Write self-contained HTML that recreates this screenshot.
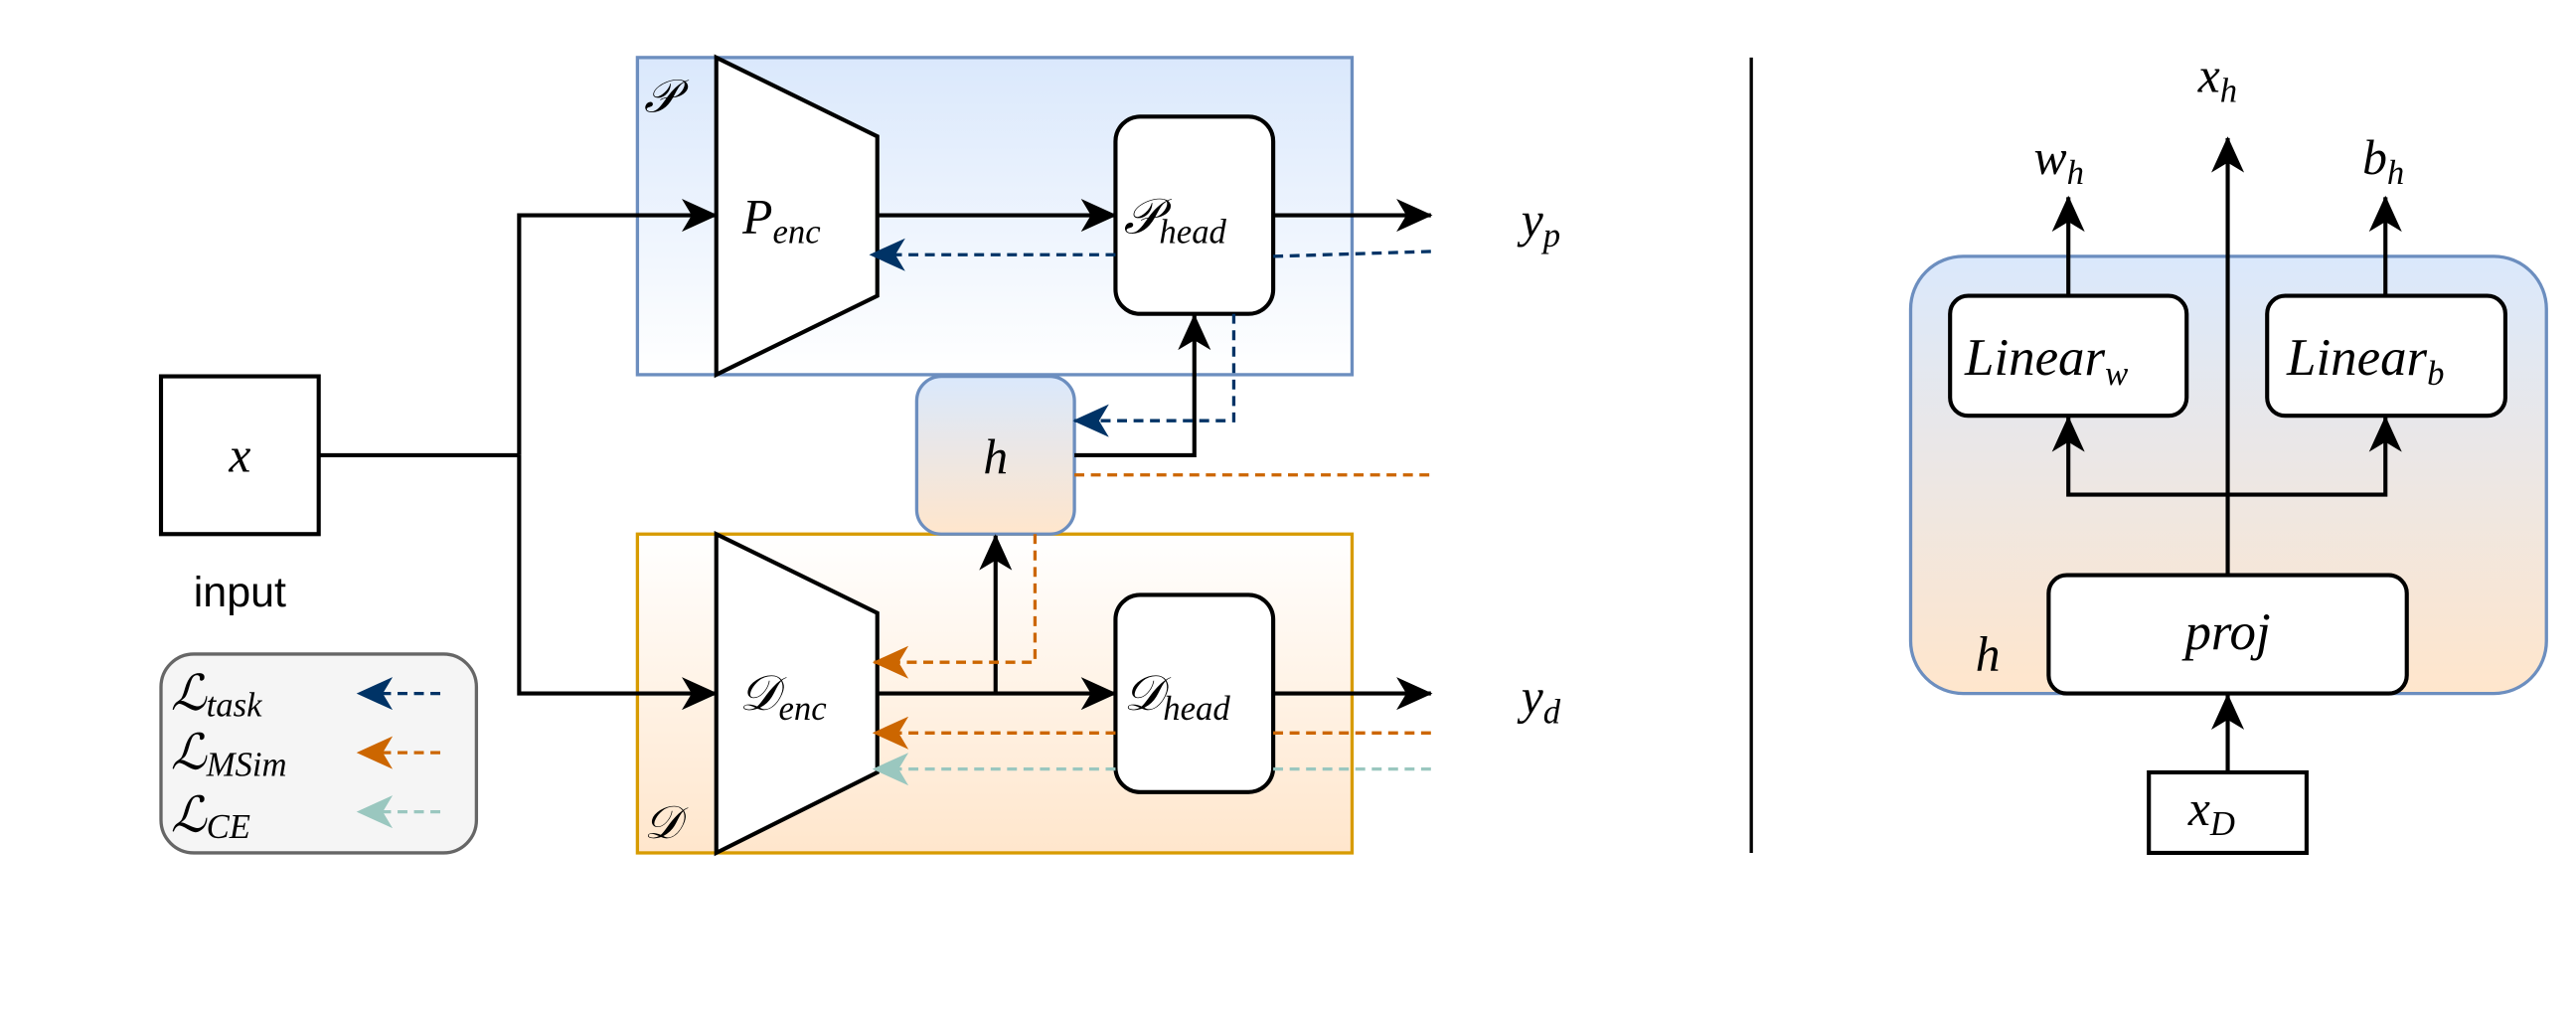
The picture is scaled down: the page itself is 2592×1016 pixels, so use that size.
<!DOCTYPE html>
<html><head><meta charset="utf-8"><style>
html,body{margin:0;padding:0;background:#fff;}
svg{display:block;}
text{font-family:"Liberation Serif",serif;font-style:italic;}
</style></head><body>
<svg width="2592" height="1016" viewBox="0 0 1568 614.6" preserveAspectRatio="none" xmlns="http://www.w3.org/2000/svg">
<defs>
<linearGradient id="gb" x1="0" y1="0" x2="0" y2="1"><stop offset="0" stop-color="#dae8fc"/><stop offset="1" stop-color="#ffffff"/></linearGradient>
<linearGradient id="go" x1="0" y1="0" x2="0" y2="1"><stop offset="0" stop-color="#ffffff"/><stop offset="1" stop-color="#ffe6cc"/></linearGradient>
<linearGradient id="gbo" x1="0" y1="0" x2="0" y2="1"><stop offset="0" stop-color="#dae8fc"/><stop offset="1" stop-color="#ffe6cc"/></linearGradient>
<marker id="ak" markerWidth="22" markerHeight="20" refX="21" refY="10" orient="auto" markerUnits="userSpaceOnUse" viewBox="0 0 22 20"><path d="M0,0 L22,10 L0,20 L6,10 Z" fill="#000"/></marker>
<marker id="ab" markerWidth="22" markerHeight="20" refX="21" refY="10" orient="auto" markerUnits="userSpaceOnUse" viewBox="0 0 22 20"><path d="M0,0 L22,10 L0,20 L6,10 Z" fill="#003366"/></marker>
<marker id="ao" markerWidth="22" markerHeight="20" refX="21" refY="10" orient="auto" markerUnits="userSpaceOnUse" viewBox="0 0 22 20"><path d="M0,0 L22,10 L0,20 L6,10 Z" fill="#cc6600"/></marker>
<marker id="at" markerWidth="22" markerHeight="20" refX="21" refY="10" orient="auto" markerUnits="userSpaceOnUse" viewBox="0 0 22 20"><path d="M0,0 L22,10 L0,20 L6,10 Z" fill="#9ac7bf"/></marker>
</defs>
<rect x="388" y="35" width="435" height="193" fill="url(#gb)" stroke="#6c8ebf" stroke-width="2"/>
<rect x="388" y="325" width="435" height="194" fill="url(#go)" stroke="#d79b00" stroke-width="2"/>
<text x="392" y="68" font-size="28">𝒫</text>
<text x="392" y="510" font-size="28">𝒟</text>
<polygon points="436,35 534,83 534,180 436,228" fill="#fff" stroke="#000" stroke-width="2.5"/>
<polygon points="436,325 534,373 534,470 436,519" fill="#fff" stroke="#000" stroke-width="2.5"/>
<text x="452" y="142" font-size="30">P<tspan font-size="21" dy="6">enc</tspan></text>
<text x="450" y="432" font-size="30">𝒟<tspan font-size="21" dy="6">enc</tspan></text>
<rect x="679" y="71" width="96" height="120" rx="15" fill="#fff" stroke="#000" stroke-width="2.5"/>
<rect x="679" y="362" width="96" height="120" rx="15" fill="#fff" stroke="#000" stroke-width="2.5"/>
<text x="684" y="142" font-size="30">𝒫<tspan font-size="21" dy="6">head</tspan></text>
<text x="684" y="432" font-size="30">𝒟<tspan font-size="21" dy="6">head</tspan></text>
<rect x="558" y="229" width="96" height="96" rx="15" fill="url(#gbo)" stroke="#6c8ebf" stroke-width="2"/>
<text x="606" y="288" font-size="30" text-anchor="middle">h</text>
<rect x="98" y="229" width="96" height="96" fill="#fff" stroke="#000" stroke-width="2.5"/>
<text x="146" y="287" font-size="30" text-anchor="middle">x</text>
<text x="146" y="369" font-size="26" text-anchor="middle" style="font-family:'Liberation Sans',sans-serif;font-style:normal">input</text>
<rect x="98" y="398" width="192" height="121" rx="20" fill="#f5f5f5" stroke="#666" stroke-width="2"/>
<text x="104" y="432" font-size="30">ℒ<tspan font-size="21" dy="4">task</tspan></text>
<text x="104" y="468" font-size="30">ℒ<tspan font-size="21" dy="4">MSim</tspan></text>
<text x="104" y="506" font-size="30">ℒ<tspan font-size="21" dy="4">CE</tspan></text>
<line x1="268" y1="422" x2="218" y2="422" stroke="#003366" stroke-width="2" stroke-dasharray="6,4" marker-end="url(#ab)"/>
<line x1="268" y1="458" x2="218" y2="458" stroke="#cc6600" stroke-width="2" stroke-dasharray="6,4" marker-end="url(#ao)"/>
<line x1="268" y1="494" x2="218" y2="494" stroke="#9ac7bf" stroke-width="2" stroke-dasharray="6,4" marker-end="url(#at)"/>
<g stroke="#000" stroke-width="2.5" fill="none">
<polyline points="194,277 316,277"/>
<polyline points="316,277 316,131 436,131" marker-end="url(#ak)"/>
<polyline points="316,277 316,422 436,422" marker-end="url(#ak)"/>
<line x1="534" y1="131" x2="679" y2="131" marker-end="url(#ak)"/>
<line x1="775" y1="131" x2="871" y2="131" marker-end="url(#ak)"/>
<polyline points="654,277 727,277 727,192" marker-end="url(#ak)"/>
<line x1="534" y1="422" x2="679" y2="422" marker-end="url(#ak)"/>
<line x1="606" y1="422" x2="606" y2="326" marker-end="url(#ak)"/>
<line x1="775" y1="422" x2="871" y2="422" marker-end="url(#ak)"/>
</g>
<g stroke-width="2" fill="none" stroke-dasharray="6,4">
<line x1="871" y1="153" x2="775" y2="156" stroke="#003366"/>
<line x1="679" y1="155" x2="530" y2="155" stroke="#003366" marker-end="url(#ab)"/>
<polyline points="751,191 751,256 654,256" stroke="#003366" marker-end="url(#ab)"/>
<line x1="654" y1="289" x2="871" y2="289" stroke="#cc6600"/>
<polyline points="630,325 630,403 532,403" stroke="#cc6600" marker-end="url(#ao)"/>
<line x1="871" y1="446" x2="775" y2="446" stroke="#cc6600"/>
<line x1="679" y1="446" x2="532" y2="446" stroke="#cc6600" marker-end="url(#ao)"/>
<line x1="871" y1="468" x2="775" y2="468" stroke="#9ac7bf"/>
<line x1="679" y1="468" x2="532" y2="468" stroke="#9ac7bf" marker-end="url(#at)"/>
</g>
<text x="926" y="144" font-size="30">y<tspan font-size="21" dy="6">p</tspan></text>
<text x="926" y="434" font-size="30">y<tspan font-size="21" dy="6">d</tspan></text>
<line x1="1066" y1="35" x2="1066" y2="519" stroke="#000" stroke-width="2"/>
<rect x="1163" y="156" width="387" height="266" rx="32" fill="url(#gbo)" stroke="#6c8ebf" stroke-width="2"/>
<rect x="1187" y="180" width="144" height="73" rx="11" fill="#fff" stroke="#000" stroke-width="2.5"/>
<rect x="1380" y="180" width="145" height="73" rx="11" fill="#fff" stroke="#000" stroke-width="2.5"/>
<rect x="1247" y="350" width="218" height="72" rx="11" fill="#fff" stroke="#000" stroke-width="2.5"/>
<rect x="1308" y="470" width="96" height="49" fill="#fff" stroke="#000" stroke-width="2.5"/>
<text x="1196" y="228" font-size="32">Linear<tspan font-size="21" dy="6">w</tspan></text>
<text x="1392" y="228" font-size="32">Linear<tspan font-size="21" dy="6">b</tspan></text>
<text x="1356" y="395" font-size="32" text-anchor="middle">proj</text>
<text x="1210" y="408" font-size="30" text-anchor="middle">h</text>
<text x="1332" y="502" font-size="30">x<tspan font-size="21" dy="6">D</tspan></text>
<text x="1338" y="56" font-size="30">x<tspan font-size="21" dy="6">h</tspan></text>
<text x="1238" y="106" font-size="30">w<tspan font-size="21" dy="6">h</tspan></text>
<text x="1438" y="106" font-size="30">b<tspan font-size="21" dy="6">h</tspan></text>
<g stroke="#000" stroke-width="2.5" fill="none">
<line x1="1356" y1="470" x2="1356" y2="423" marker-end="url(#ak)"/>
<line x1="1356" y1="350" x2="1356" y2="84" marker-end="url(#ak)"/>
<polyline points="1356,301 1259,301 1259,254" marker-end="url(#ak)"/>
<polyline points="1356,301 1452,301 1452,254" marker-end="url(#ak)"/>
<line x1="1259" y1="180" x2="1259" y2="120" marker-end="url(#ak)"/>
<line x1="1452" y1="180" x2="1452" y2="120" marker-end="url(#ak)"/>
</g>
</svg>
</body></html>
